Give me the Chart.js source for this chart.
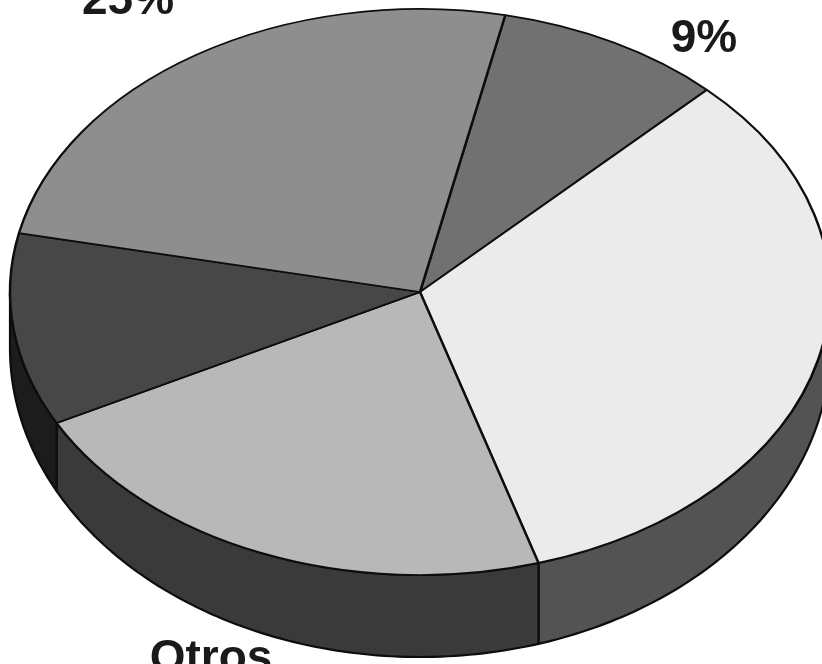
<!DOCTYPE html>
<html>
<head>
<meta charset="utf-8">
<script src="https://cdn.jsdelivr.net/npm/chart.js@4.4.1/dist/chart.umd.min.js"></script>
<style>
    html, body { margin: 0; padding: 0; background: #fff; overflow: hidden; }
    #wrap { position: relative; width: 822px; height: 664px; }
</style>
</head>
<body>
<div id="wrap"><canvas id="myCanvas"></canvas></div>
<script>
// slices, clockwise from the 9% one; only "Otros" can be read in the picture
const categories = ['', '', 'Otros', '', ''];
const shares = [9, 33, 22, 11, 25];
const shownText = ['9%', '', 'Otros', '', '25%'];

const topColors = ['#717171', '#ebebeb', '#b8b8b8', '#474747', '#8e8e8e'];
const sideColors = ['#3a3a3a', '#535353', '#3a3a3a', '#1c1c1c', '#444444'];

// ellipse the pie is squashed into, side deeper at the front
const CX = 420, CY = 292, RX = 410, RY = 283;

function depthAt(t) {
    return 56 + 26 * Math.max(Math.sin(t), 0);
}

function ellipsePoint(t, down) {
    return [CX + RX * Math.cos(t), CY + RY * Math.sin(t) + (down ? depthAt(t) : 0)];
}

function drawSides(ctx, arcs) {
    const TAU = Math.PI * 2;
    arcs.forEach((arc, i) => {
        for (let k = -1; k <= 1; k++) {
            const a = Math.max(arc.startAngle + TAU * k, 0);
            const b = Math.min(arc.endAngle + TAU * k, Math.PI);
            if (b <= a) continue;
            ctx.beginPath();
            const steps = 80;
            for (let s = 0; s <= steps; s++) {
                const p = ellipsePoint(a + (b - a) * s / steps, false);
                s === 0 ? ctx.moveTo(p[0], p[1]) : ctx.lineTo(p[0], p[1]);
            }
            for (let s = steps; s >= 0; s--) {
                const p = ellipsePoint(a + (b - a) * s / steps, true);
                ctx.lineTo(p[0], p[1]);
            }
            ctx.closePath();
            ctx.fillStyle = sideColors[i];
            ctx.fill();
            ctx.strokeStyle = '#0d0d0d';
            ctx.lineWidth = 2.2;
            ctx.lineJoin = 'round';
            ctx.stroke();
        }
    });
}

const pie3d = {
    id: 'pie3d',
    beforeDatasetsDraw(chart) {
        const ctx = chart.ctx;
        const arcs = chart.getDatasetMeta(0).data;
        drawSides(ctx, arcs);

        // squash the real pie into the top face
        const arc = arcs[0];
        const r = arc.outerRadius;
        ctx.save();
        ctx.translate(CX, CY);
        ctx.scale(RX / r, RY / r);
        ctx.translate(-arc.x, -arc.y);
    },
    afterDatasetsDraw(chart) {
        chart.ctx.restore();
    },
    afterDraw(chart) {
        const ctx = chart.ctx;
        ctx.save();
        ctx.fillStyle = '#1a1a1a';
        ctx.font = 'bold 46px "Liberation Sans", Arial, sans-serif';
        ctx.textAlign = 'center';
        ctx.textBaseline = 'alphabetic';
        ctx.fillText(shownText[4], 128, 14);
        ctx.fillText(shownText[0], 704, 52);
        ctx.fillText(shownText[2], 211, 672);
        ctx.restore();
    }
};

new Chart(document.getElementById('myCanvas'), {
    type: 'pie',
    data: {
        labels: categories,
        datasets: [{
            data: shares,
            backgroundColor: topColors,
            borderColor: '#0d0d0d',
            borderWidth: 2,
            clip: false
        }]
    },
    options: {
        responsive: true,
        maintainAspectRatio: false,
        animation: false,
        events: [],
        rotation: 12,
        layout: { padding: 0 },
        plugins: {
            legend: { display: false },
            tooltip: { enabled: false }
        }
    },
    plugins: [pie3d]
});
</script>
</body>
</html>
